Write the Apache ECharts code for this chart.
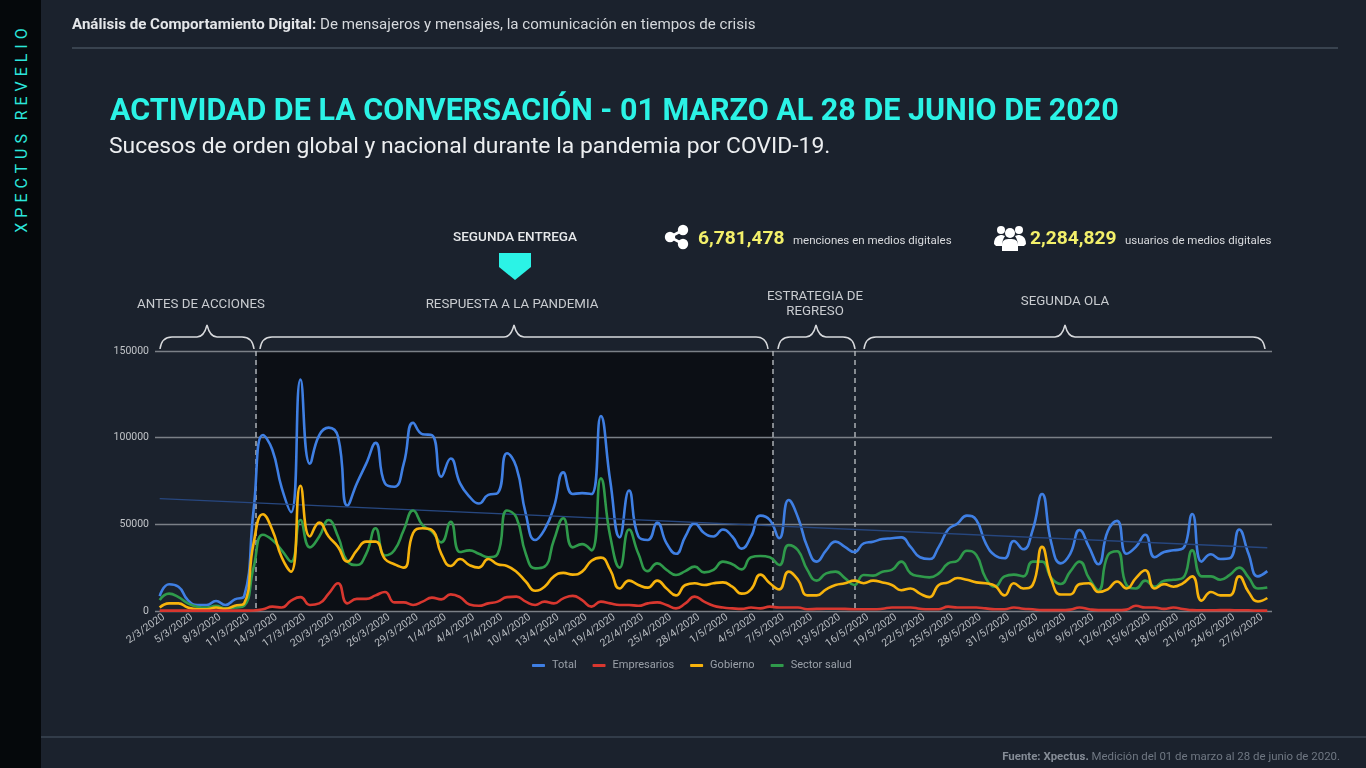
<!DOCTYPE html>
<html lang="es">
<head>
<meta charset="utf-8">
<title>Actividad de la conversación</title>
<script src="https://cdn.jsdelivr.net/npm/echarts@6/dist/echarts.min.js"></script>
<style>
  html, body { margin: 0; padding: 0; width: 1366px; height: 768px; overflow: hidden; background: #1b222d; font-family: Roboto, sans-serif; }
  .abs { position: absolute; white-space: nowrap; }
  #chart { position: absolute; left: 0; top: 0; width: 1366px; height: 768px; }
  #side { position: absolute; left: 0; top: 0; width: 41px; height: 768px; background: #05080b; }
  #brand { left: 21px; top: 128px; transform: translate(-50%, -50%) rotate(-90deg); color: #2ce6dc; font-size: 16px; letter-spacing: 4.95px; }
  #head { left: 72px; top: 15px; color: #d5d8dc; font-size: 15.1px; }
  #head b { color: #e4e6e9; }
  #rule1 { position: absolute; left: 72px; top: 47px; width: 1266px; height: 2px; background: #39434f; }
  #rule2 { position: absolute; left: 41px; top: 736px; width: 1325px; height: 2px; background: #323c49; }
  #title { left: 110px; top: 92px; color: #2bf3e6; font-size: 30.5px; font-weight: 700; }
  #sub { left: 109px; top: 132px; color: #eceef0; font-size: 22.9px; }
  .ann { color: #c9ccd0; font-size: 13.3px; text-align: center; line-height: 15px; transform: translateX(-50%); }
  .num { color: #f3f06a; font-size: 19.2px; font-weight: 700; }
  .small { color: #d8dadd; font-size: 11.5px; }
  #foot { right: 26px; top: 749px; color: #6f7782; font-size: 11.45px; }
  #foot b { color: #858c96; }
  svg.over { position: absolute; left: 0; top: 0; }
</style>
</head>
<body>
<div id="chart"></div>
<div id="side"></div>
<div id="brand" class="abs">XPECTUS REVELIO</div>
<div id="head" class="abs"><b>Análisis de Comportamiento Digital:</b> De mensajeros y mensajes, la comunicación en tiempos de crisis</div>
<div id="rule1"></div>
<div id="title" class="abs">ACTIVIDAD DE LA CONVERSACIÓN - 01 MARZO AL 28 DE JUNIO DE 2020</div>
<div id="sub" class="abs">Sucesos de orden global y nacional durante la pandemia por COVID-19.</div>

<div class="abs ann" style="left:515px;top:229px;color:#e6e8ea;font-weight:500;font-size:13.5px">SEGUNDA ENTREGA</div>
<div class="abs ann" style="left:201px;top:296px">ANTES DE ACCIONES</div>
<div class="abs ann" style="left:512px;top:296px">RESPUESTA A LA PANDEMIA</div>
<div class="abs ann" style="left:815px;top:288px">ESTRATEGIA DE<br>REGRESO</div>
<div class="abs ann" style="left:1065px;top:293px">SEGUNDA OLA</div>

<div class="abs num" style="left:698px;top:226px">6,781,478</div>
<div class="abs small" style="left:793px;top:233px">menciones en medios digitales</div>
<div class="abs num" style="left:1030px;top:226px">2,284,829</div>
<div class="abs small" style="left:1125px;top:233px">usuarios de medios digitales</div>

<svg class="over" width="1366" height="768">
  <polygon points="499,253 531,253 531,267 515,280 499,267" fill="#2bf3e6"/>
  <g fill="none" stroke="#d8dadd" stroke-width="1.5">
    <path d="M160 349 C161 341 165 337 172 337 L197 337 C202 337 205 333 207 325 C209 333 212 337 217 337 L242 337 C249 337 253 341 254 349"/>
    <path d="M260 349 C261 341 265 337 272 337 L504 337 C509 337 512 333 514 325 C516 333 519 337 524 337 L756 337 C763 337 767 341 768 349"/>
    <path d="M778 349 C779 341 783 337 790 337 L806 337 C811 337 814 333 816 325 C818 333 821 337 826 337 L843 337 C850 337 854 341 855 349"/>
    <path d="M864 349 C865 341 869 337 876 337 L1055 337 C1060 337 1063 333 1065 325 C1067 333 1070 337 1075 337 L1253 337 C1260 337 1264 341 1265 349"/>
  </g>
  <g fill="#fff" stroke="#fff">
    <path d="M683 230 L670 237 L683 244" fill="none" stroke-width="2.6"/>
    <circle cx="683" cy="230" r="5.2" stroke="none"/>
    <circle cx="670" cy="237" r="5.2" stroke="none"/>
    <circle cx="683" cy="244" r="5.2" stroke="none"/>
  </g>
  <g fill="#fff">
    <circle cx="1001" cy="230" r="4"/>
    <circle cx="1019" cy="230" r="4"/>
    <path d="M994 244 C994 237 998 235 1002 235 L1005 236 C1003 239 1002 242 1002 246 L996 246 Z"/>
    <path d="M1026 244 C1026 237 1022 235 1018 235 L1015 236 C1017 239 1018 242 1018 246 L1024 246 Z"/>
    <circle cx="1010" cy="233" r="5"/>
    <path d="M1002 251 L1002 245 C1002 240 1005 239 1010 239 C1015 239 1018 240 1018 245 L1018 251 Z"/>
  </g>
</svg>

<div id="rule2"></div>
<div id="foot" class="abs"><b>Fuente: Xpectus.</b> Medición del 01 de marzo al 28 de junio de 2020.</div>

<script>
const dates = [
  '2/3/2020','3/3/2020','4/3/2020','5/3/2020','6/3/2020','7/3/2020','8/3/2020','9/3/2020','10/3/2020','11/3/2020',
  '12/3/2020','13/3/2020','14/3/2020','15/3/2020','16/3/2020','17/3/2020','18/3/2020','19/3/2020','20/3/2020','21/3/2020',
  '22/3/2020','23/3/2020','24/3/2020','25/3/2020','26/3/2020','27/3/2020','28/3/2020','29/3/2020','30/3/2020','31/3/2020',
  '1/4/2020','2/4/2020','3/4/2020','4/4/2020','5/4/2020','6/4/2020','7/4/2020','8/4/2020','9/4/2020','10/4/2020',
  '11/4/2020','12/4/2020','13/4/2020','14/4/2020','15/4/2020','16/4/2020','17/4/2020','18/4/2020','19/4/2020','20/4/2020',
  '21/4/2020','22/4/2020','23/4/2020','24/4/2020','25/4/2020','26/4/2020','27/4/2020','28/4/2020','29/4/2020','30/4/2020',
  '1/5/2020','2/5/2020','3/5/2020','4/5/2020','5/5/2020','6/5/2020','7/5/2020','8/5/2020','9/5/2020','10/5/2020',
  '11/5/2020','12/5/2020','13/5/2020','14/5/2020','15/5/2020','16/5/2020','17/5/2020','18/5/2020','19/5/2020','20/5/2020',
  '21/5/2020','22/5/2020','23/5/2020','24/5/2020','25/5/2020','26/5/2020','27/5/2020','28/5/2020','29/5/2020','30/5/2020',
  '31/5/2020','1/6/2020','2/6/2020','3/6/2020','4/6/2020','5/6/2020','6/6/2020','7/6/2020','8/6/2020','9/6/2020',
  '10/6/2020','11/6/2020','12/6/2020','13/6/2020','14/6/2020','15/6/2020','16/6/2020','17/6/2020','18/6/2020','19/6/2020',
  '20/6/2020','21/6/2020','22/6/2020','23/6/2020','24/6/2020','25/6/2020','26/6/2020','27/6/2020','28/6/2020'
];

const total = [
  8600,15400,14000,6300,3500,3500,5800,3500,6700,8600,
  58000,101500,93000,71000,57000,133600,85000,101500,105800,100500,
  60800,73600,85000,97000,73600,71700,85000,108600,102000,101500,
  77500,88000,73600,66000,62000,67000,68000,91000,83000,56000,
  41000,47000,60000,80000,67500,68000,67500,112500,75000,42500,
  69500,43000,41000,51000,39000,33000,43000,50500,45000,43000,
  47000,43000,36000,43000,55000,52500,42000,64000,54000,37000,
  28500,35000,40000,37000,34000,39000,40000,41500,42000,42500,
  37000,31000,30000,37000,47000,50500,55000,52500,39000,32000,
  30400,40400,35600,46700,67500,39000,27500,33000,46700,37000,
  27000,46000,52000,33000,37000,44000,31000,34000,35000,36000,
  56000,28500,32700,30000,30400,47000,33000,20000,23000
];

const empresarios = [
  200,200,200,200,200,200,200,200,200,200,
  300,1000,2500,2000,6000,8000,3500,4400,10000,16000,
  4400,7000,7000,9000,11000,5000,5000,3500,5400,7700,
  6700,9600,8000,3800,3000,4400,5400,8000,8300,5400,
  3500,5400,4400,7300,8700,6300,2500,5400,4400,3500,
  3500,3000,4400,5000,3500,1500,4400,8300,5400,3000,
  2000,1500,1200,2000,1500,2500,2000,2000,2000,1000,
  1200,1300,1300,1200,1000,1000,1000,1300,2000,2000,
  2000,1300,1000,1000,2500,2000,2000,2000,1500,1000,
  1000,2000,1300,1000,500,500,500,800,2000,1000,
  500,500,500,800,3000,2000,2000,1200,2000,1200,
  500,400,400,500,500,400,400,200,200
];

const gobierno = [
  2000,4400,4400,2000,1000,1000,2000,1300,3000,4400,
  39000,55800,46700,31000,22700,72300,43000,51000,43000,37000,
  28500,35000,40000,40000,30000,27000,25000,45000,47700,46700,
  33000,26000,30000,26500,25000,30000,27000,26000,22700,17000,
  11700,14000,20000,22000,21000,22700,29000,30800,23700,13000,
  17500,15000,13500,17500,13000,9000,15000,16000,15000,16000,
  16500,14000,10000,12500,21000,16000,12500,22700,18000,9000,
  9000,12500,15000,16000,17500,16000,17500,16500,15000,12000,
  13000,10000,8000,15000,16500,19000,18000,16500,16000,14500,
  9000,16000,13000,15000,37000,18000,9500,9500,15500,16000,
  11000,12500,17000,13000,19000,23500,13000,15500,14000,16000,
  20000,6000,11000,9000,9000,20000,11000,5500,7500
];

const salud = [
  6300,10000,8000,4400,2500,2000,3000,1500,2000,3000,
  25000,44000,41000,35000,28500,52500,36700,43000,52500,43000,
  28500,26500,33000,47700,32000,35000,46700,58000,49600,45800,
  39600,51500,34000,35000,33000,31000,33000,58000,54000,33000,
  24600,25600,41000,53500,36700,38600,35000,76500,43000,25000,
  47000,33000,23000,27500,23700,20800,23000,25600,22300,23700,
  28500,27000,24000,31000,31700,31000,26500,38000,35000,23700,
  17500,21700,22700,19000,15000,20800,20400,22700,23700,28500,
  21700,20000,19400,21700,27500,29000,34800,32300,19000,14000,
  20000,21000,20000,28500,28500,19000,15600,22700,28500,19000,
  12000,32000,34500,15000,13000,17500,14000,17500,18000,19000,
  35000,20000,20000,18000,20800,25000,19400,13000,13600
];

// linea de tendencia del total: primer y ultimo dia
const tendencia = [[dates[0], 64800], [dates[118], 36500]];

const chart = echarts.init(document.getElementById('chart'));

const lineSeries = (name, data, color) => ({
  name: name,
  type: 'line',
  data: data,
  smooth: 0.5,
  showSymbol: false,
  lineStyle: { color: color, width: 2.6 },
  itemStyle: { color: color }
});

const vline = (x) => ({
  type: 'line',
  z: 1,
  shape: { x1: x, y1: 351, x2: x, y2: 611 },
  style: { stroke: '#b4b8bd', lineWidth: 1.4, lineDash: [5, 4] }
});

chart.setOption({
  animation: false,
  textStyle: { fontFamily: 'Roboto' },
  grid: { left: 155, right: 94, top: 351, height: 260 },
  legend: {
    left: 527,
    top: 655,
    data: ['Total', 'Empresarios', 'Gobierno', 'Sector salud'],
    icon: 'roundRect',
    itemWidth: 13,
    itemHeight: 3,
    itemGap: 16,
    textStyle: { color: '#9aa0a8', fontSize: 11, padding: [0, 0, 0, 2] }
  },
  xAxis: {
    type: 'category',
    data: dates,
    axisTick: { show: false },
    axisLine: { show: false },
    axisLabel: { interval: 2, rotate: 35, color: '#b9bdc2', fontSize: 10.5, margin: 8, padding: [0, -5, 0, 0] }
  },
  yAxis: {
    type: 'value',
    min: 0,
    max: 150000,
    interval: 50000,
    axisLine: { show: false },
    axisTick: { show: false },
    axisLabel: { color: '#c0c3c7', fontSize: 10.5, margin: 6, formatter: (v) => String(v) },
    splitLine: { lineStyle: { color: '#7b8087', width: 1.4 } }
  },
  graphic: [
    { type: 'rect', z: -1, shape: { x: 257, y: 351, width: 516, height: 260 }, style: { fill: '#0c0f15' } },
    vline(256),
    vline(773),
    vline(855)
  ],
  series: [
    lineSeries('Total', total, '#3f7fe3'),
    {
      name: 'Tendencia',
      type: 'line',
      data: tendencia,
      showSymbol: false,
      silent: true,
      lineStyle: { color: '#27477f', width: 1.3 }
    },
    lineSeries('Sector salud', salud, '#2f9a4b'),
    lineSeries('Gobierno', gobierno, '#f7b30c'),
    lineSeries('Empresarios', empresarios, '#d8372f')
  ]
});
</script>
</body>
</html>
